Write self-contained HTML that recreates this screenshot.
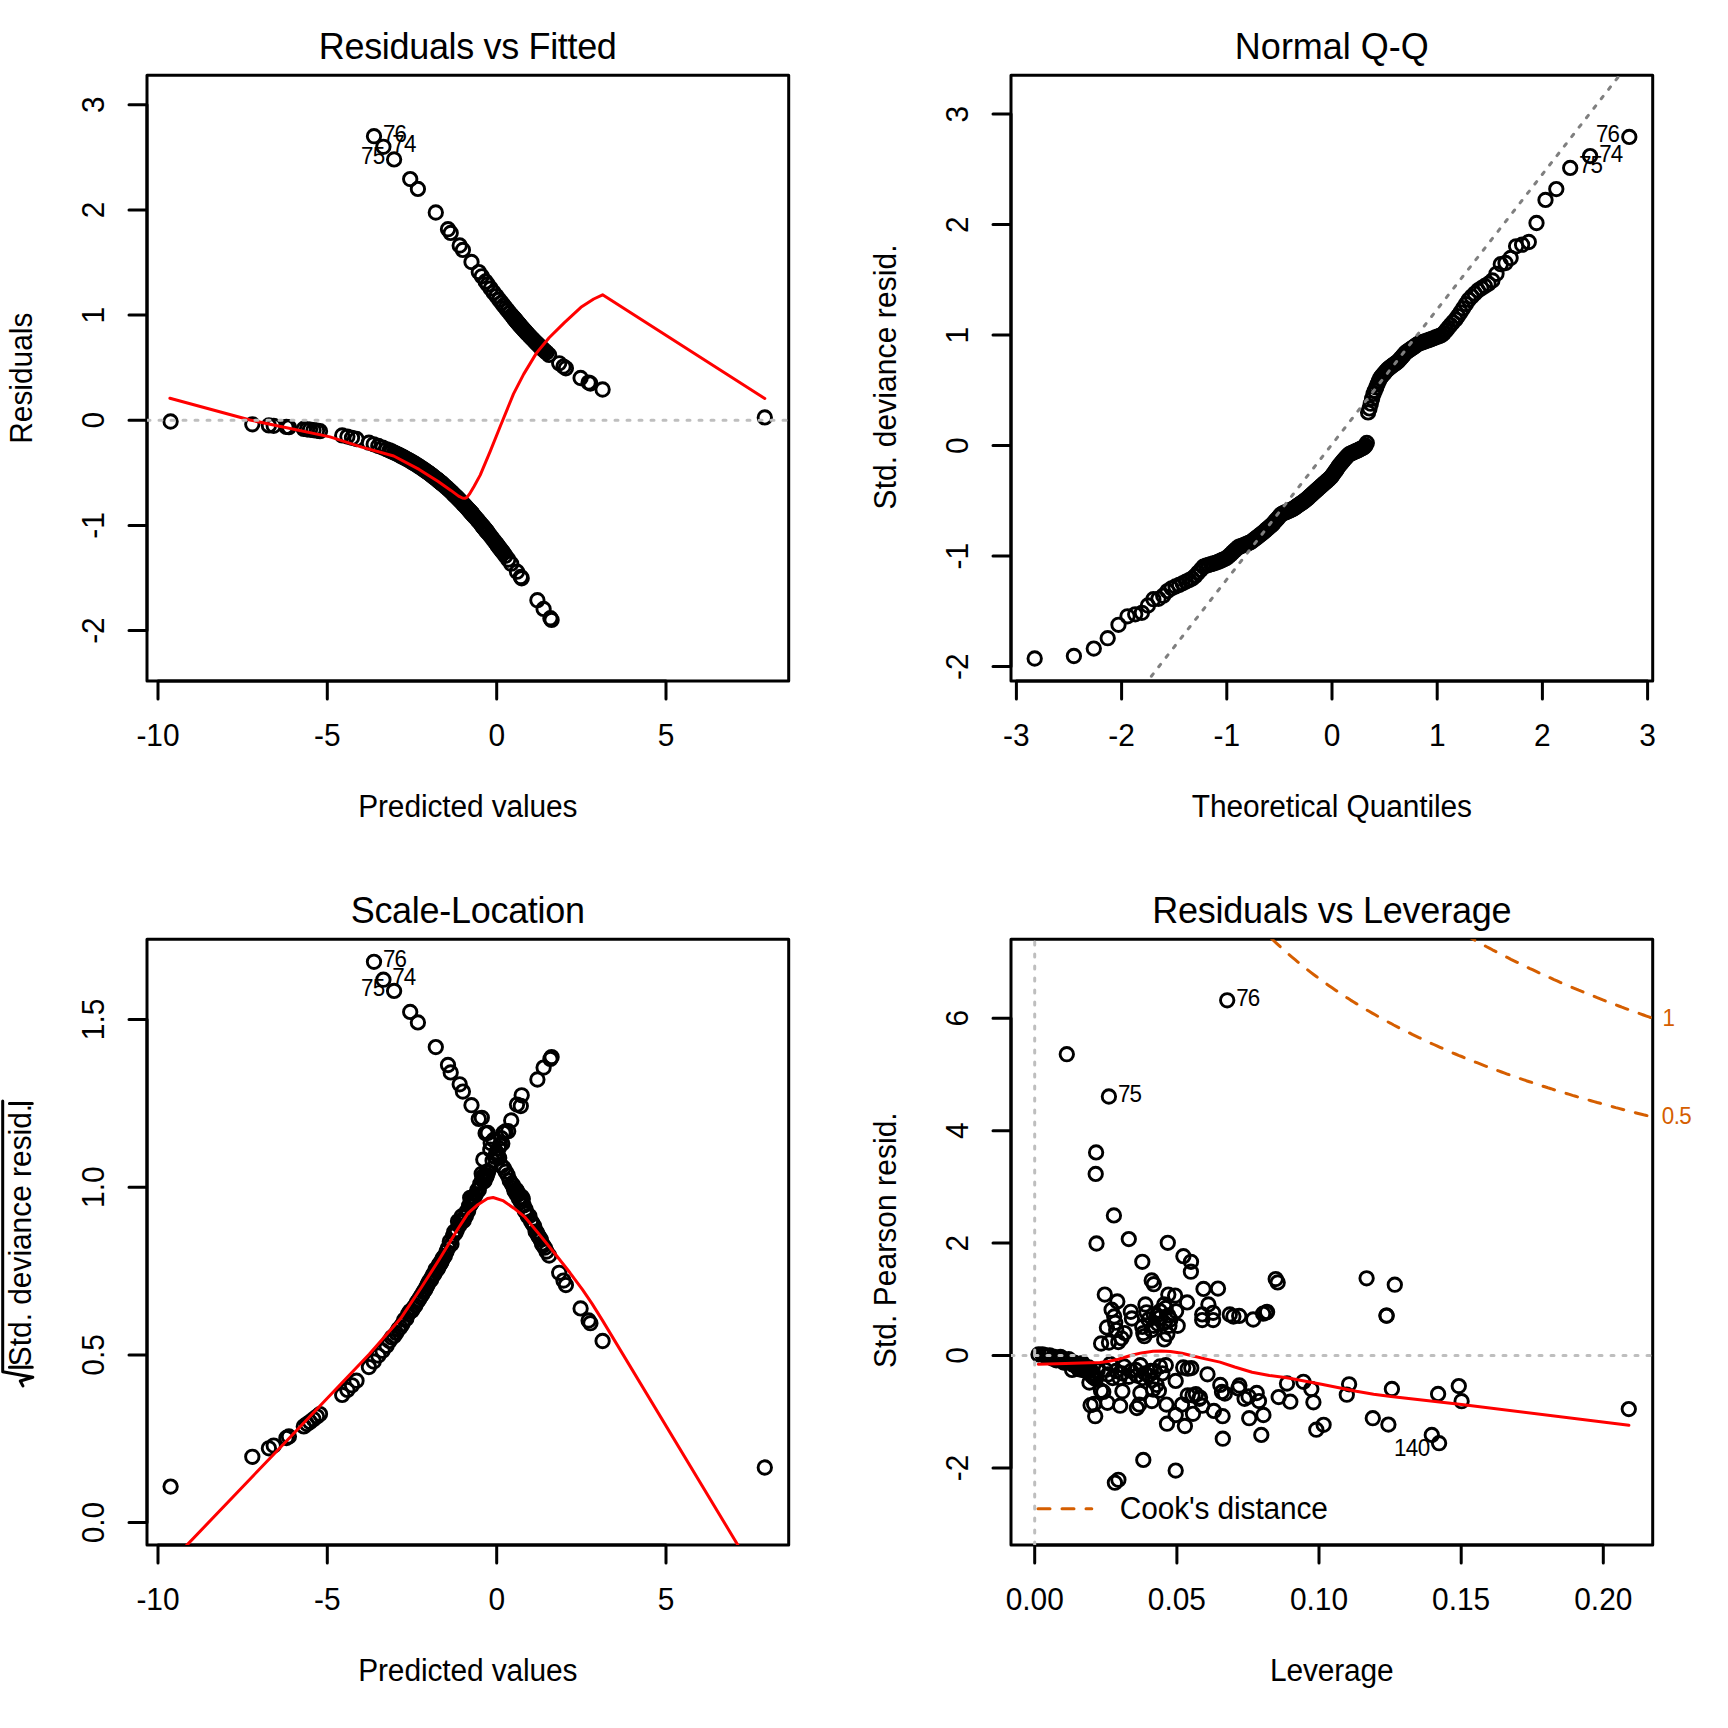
<!DOCTYPE html>
<html><head><meta charset="utf-8"><title>GLM diagnostic plots</title>
<style>
html,body{margin:0;padding:0;background:#fff;}
svg{display:block;}
text{font-family:"Liberation Sans", Arial, sans-serif;fill:#000;}
</style></head><body>
<svg width="1728" height="1728" viewBox="0 0 1728 1728">
<rect width="1728" height="1728" fill="#fff"/>
<defs><clipPath id="c1"><rect x="147" y="75.3" width="641.7" height="605.8"/></clipPath><clipPath id="c2"><rect x="1011" y="75.3" width="641.7" height="605.8"/></clipPath><clipPath id="c3"><rect x="147" y="939.3" width="641.7" height="605.8"/></clipPath><clipPath id="c4"><rect x="1011" y="939.3" width="641.7" height="605.8"/></clipPath></defs>
<rect x="147" y="75.3" width="641.7" height="605.8" fill="none" stroke="#000" stroke-width="3.0" stroke-linejoin="round"/>
<path d="M158 681.1H666M158 681.1v18M327.3 681.1v18M496.7 681.1v18M666 681.1v18" stroke="#000" stroke-width="3.0" fill="none" stroke-linecap="round"/>
<path d="M147 104.8V630.6M147 630.6h-18M147 525.4h-18M147 420.2h-18M147 315.1h-18M147 209.9h-18M147 104.8h-18" stroke="#000" stroke-width="3.0" fill="none" stroke-linecap="round"/>
<text transform="translate(157.99 745.5) scale(1 1.04)" font-size="29.88" text-anchor="middle">-10</text>
<text transform="translate(327.34 745.5) scale(1 1.04)" font-size="29.88" text-anchor="middle">-5</text>
<text transform="translate(496.69 745.5) scale(1 1.04)" font-size="29.88" text-anchor="middle">0</text>
<text transform="translate(666.04 745.5) scale(1 1.04)" font-size="29.88" text-anchor="middle">5</text>
<text transform="translate(103.8 630.57) rotate(-90) scale(1 1.04)" font-size="29.88" text-anchor="middle">-2</text>
<text transform="translate(103.8 525.41) rotate(-90) scale(1 1.04)" font-size="29.88" text-anchor="middle">-1</text>
<text transform="translate(103.8 420.25) rotate(-90) scale(1 1.04)" font-size="29.88" text-anchor="middle">0</text>
<text transform="translate(103.8 315.09) rotate(-90) scale(1 1.04)" font-size="29.88" text-anchor="middle">1</text>
<text transform="translate(103.8 209.93) rotate(-90) scale(1 1.04)" font-size="29.88" text-anchor="middle">2</text>
<text transform="translate(103.8 104.77) rotate(-90) scale(1 1.04)" font-size="29.88" text-anchor="middle">3</text>
<text transform="translate(467.85 58.8) scale(1 1.04)" font-size="36" text-anchor="middle" textLength="298.0" lengthAdjust="spacing">Residuals vs Fitted</text>
<text transform="translate(467.85 816.7) scale(1 1.04)" font-size="29.88" text-anchor="middle" textLength="219.3" lengthAdjust="spacing">Predicted values</text>
<text transform="translate(32.2 378.2) rotate(-90) scale(1 1.04)" font-size="29.88" text-anchor="middle">Residuals</text>
<g clip-path="url(#c1)">
<g fill="none" stroke="#000" stroke-width="2.9"><circle cx="374" cy="136.2" r="6.7"/><circle cx="383.4" cy="146.8" r="6.7"/><circle cx="394.1" cy="159.4" r="6.7"/><circle cx="410.2" cy="179.1" r="6.7"/><circle cx="417.9" cy="188.9" r="6.7"/><circle cx="435.8" cy="212.5" r="6.7"/><circle cx="448" cy="229.2" r="6.7"/><circle cx="450.7" cy="232.9" r="6.7"/><circle cx="459.7" cy="245.5" r="6.7"/><circle cx="462.9" cy="249.9" r="6.7"/><circle cx="471.5" cy="262" r="6.7"/><circle cx="478.8" cy="272.1" r="6.7"/><circle cx="481.8" cy="276.3" r="6.7"/><circle cx="485.6" cy="281.5" r="6.7"/><circle cx="487.8" cy="284.5" r="6.7"/><circle cx="490.7" cy="288.5" r="6.7"/><circle cx="493.6" cy="292.4" r="6.7"/><circle cx="496.4" cy="296.1" r="6.7"/><circle cx="499.2" cy="299.7" r="6.7"/><circle cx="501.6" cy="302.8" r="6.7"/><circle cx="503.7" cy="305.5" r="6.7"/><circle cx="505.7" cy="308" r="6.7"/><circle cx="507.7" cy="310.6" r="6.7"/><circle cx="509.7" cy="313.1" r="6.7"/><circle cx="511.8" cy="315.6" r="6.7"/><circle cx="513.2" cy="317.3" r="6.7"/><circle cx="513.8" cy="318.1" r="6.7"/><circle cx="514.5" cy="318.8" r="6.7"/><circle cx="515.1" cy="319.6" r="6.7"/><circle cx="515.7" cy="320.3" r="6.7"/><circle cx="516.3" cy="321" r="6.7"/><circle cx="516.8" cy="321.7" r="6.7"/><circle cx="517.4" cy="322.3" r="6.7"/><circle cx="517.9" cy="322.9" r="6.7"/><circle cx="518.4" cy="323.5" r="6.7"/><circle cx="518.9" cy="324.1" r="6.7"/><circle cx="519.4" cy="324.7" r="6.7"/><circle cx="519.9" cy="325.3" r="6.7"/><circle cx="520.9" cy="326.4" r="6.7"/><circle cx="521.9" cy="327.5" r="6.7"/><circle cx="522.8" cy="328.6" r="6.7"/><circle cx="523.8" cy="329.7" r="6.7"/><circle cx="524.8" cy="330.7" r="6.7"/><circle cx="525.7" cy="331.8" r="6.7"/><circle cx="526.7" cy="332.9" r="6.7"/><circle cx="527.8" cy="334.1" r="6.7"/><circle cx="529.4" cy="335.8" r="6.7"/><circle cx="531" cy="337.4" r="6.7"/><circle cx="532.6" cy="339.1" r="6.7"/><circle cx="534.2" cy="340.8" r="6.7"/><circle cx="535.6" cy="342.2" r="6.7"/><circle cx="536.7" cy="343.3" r="6.7"/><circle cx="537.7" cy="344.3" r="6.7"/><circle cx="538.7" cy="345.3" r="6.7"/><circle cx="539.8" cy="346.3" r="6.7"/><circle cx="540.8" cy="347.4" r="6.7"/><circle cx="541.9" cy="348.4" r="6.7"/><circle cx="543.2" cy="349.5" r="6.7"/><circle cx="544.8" cy="351.1" r="6.7"/><circle cx="546.5" cy="352.6" r="6.7"/><circle cx="549.1" cy="354.9" r="6.7"/><circle cx="559.2" cy="363.3" r="6.7"/><circle cx="563.5" cy="366.6" r="6.7"/><circle cx="565.9" cy="368.3" r="6.7"/><circle cx="580.6" cy="378" r="6.7"/><circle cx="588.6" cy="382.6" r="6.7"/><circle cx="590.4" cy="383.5" r="6.7"/><circle cx="602.6" cy="389.5" r="6.7"/><circle cx="764.8" cy="417.4" r="6.7"/><circle cx="551.6" cy="619.9" r="6.7"/><circle cx="550.4" cy="618.2" r="6.7"/><circle cx="543.6" cy="608.9" r="6.7"/><circle cx="537.4" cy="600.2" r="6.7"/><circle cx="521.7" cy="578.3" r="6.7"/><circle cx="520.8" cy="577" r="6.7"/><circle cx="517" cy="571.7" r="6.7"/><circle cx="511.2" cy="563.7" r="6.7"/><circle cx="508.2" cy="559.6" r="6.7"/><circle cx="505.4" cy="555.8" r="6.7"/><circle cx="503.5" cy="553.1" r="6.7"/><circle cx="502.3" cy="551.5" r="6.7"/><circle cx="501.1" cy="549.9" r="6.7"/><circle cx="500" cy="548.5" r="6.7"/><circle cx="498.8" cy="546.9" r="6.7"/><circle cx="497.7" cy="545.4" r="6.7"/><circle cx="496.7" cy="544" r="6.7"/><circle cx="494.9" cy="541.7" r="6.7"/><circle cx="492.6" cy="538.7" r="6.7"/><circle cx="490.3" cy="535.8" r="6.7"/><circle cx="488.1" cy="533" r="6.7"/><circle cx="487.4" cy="532.1" r="6.7"/><circle cx="486.9" cy="531.4" r="6.7"/><circle cx="486.3" cy="530.7" r="6.7"/><circle cx="485.8" cy="530" r="6.7"/><circle cx="485.3" cy="529.4" r="6.7"/><circle cx="484.6" cy="528.6" r="6.7"/><circle cx="483.9" cy="527.7" r="6.7"/><circle cx="483.1" cy="526.8" r="6.7"/><circle cx="482.4" cy="525.9" r="6.7"/><circle cx="481.7" cy="525" r="6.7"/><circle cx="480.3" cy="523.3" r="6.7"/><circle cx="478.8" cy="521.5" r="6.7"/><circle cx="477.4" cy="519.8" r="6.7"/><circle cx="475.9" cy="518.1" r="6.7"/><circle cx="474.5" cy="516.4" r="6.7"/><circle cx="473.1" cy="514.9" r="6.7"/><circle cx="472.6" cy="514.2" r="6.7"/><circle cx="472" cy="513.5" r="6.7"/><circle cx="471.4" cy="512.9" r="6.7"/><circle cx="470.8" cy="512.2" r="6.7"/><circle cx="470.2" cy="511.6" r="6.7"/><circle cx="469.7" cy="510.9" r="6.7"/><circle cx="469.1" cy="510.3" r="6.7"/><circle cx="468.1" cy="509.2" r="6.7"/><circle cx="467" cy="508" r="6.7"/><circle cx="465.9" cy="506.8" r="6.7"/><circle cx="464.8" cy="505.6" r="6.7"/><circle cx="463.7" cy="504.5" r="6.7"/><circle cx="462.7" cy="503.3" r="6.7"/><circle cx="461.6" cy="502.2" r="6.7"/><circle cx="460.4" cy="501" r="6.7"/><circle cx="459.2" cy="499.7" r="6.7"/><circle cx="458" cy="498.5" r="6.7"/><circle cx="456.8" cy="497.3" r="6.7"/><circle cx="455.5" cy="496.1" r="6.7"/><circle cx="454.3" cy="494.9" r="6.7"/><circle cx="453.1" cy="493.7" r="6.7"/><circle cx="451.5" cy="492.1" r="6.7"/><circle cx="449.8" cy="490.6" r="6.7"/><circle cx="448.2" cy="489" r="6.7"/><circle cx="446.5" cy="487.5" r="6.7"/><circle cx="444.8" cy="486" r="6.7"/><circle cx="443.1" cy="484.5" r="6.7"/><circle cx="442.1" cy="483.7" r="6.7"/><circle cx="441.5" cy="483.1" r="6.7"/><circle cx="440.8" cy="482.6" r="6.7"/><circle cx="440.1" cy="482" r="6.7"/><circle cx="439.4" cy="481.4" r="6.7"/><circle cx="438.8" cy="480.9" r="6.7"/><circle cx="438.1" cy="480.3" r="6.7"/><circle cx="437.4" cy="479.8" r="6.7"/><circle cx="436.6" cy="479.1" r="6.7"/><circle cx="435.5" cy="478.3" r="6.7"/><circle cx="434.4" cy="477.4" r="6.7"/><circle cx="433.3" cy="476.5" r="6.7"/><circle cx="432.2" cy="475.7" r="6.7"/><circle cx="431.1" cy="474.8" r="6.7"/><circle cx="430" cy="474" r="6.7"/><circle cx="428.8" cy="473.1" r="6.7"/><circle cx="427.6" cy="472.3" r="6.7"/><circle cx="426.5" cy="471.4" r="6.7"/><circle cx="425.1" cy="470.5" r="6.7"/><circle cx="423.5" cy="469.4" r="6.7"/><circle cx="422" cy="468.3" r="6.7"/><circle cx="420.3" cy="467.2" r="6.7"/><circle cx="418.7" cy="466.2" r="6.7"/><circle cx="417" cy="465.1" r="6.7"/><circle cx="415.3" cy="464" r="6.7"/><circle cx="413.6" cy="463" r="6.7"/><circle cx="411.8" cy="461.9" r="6.7"/><circle cx="410" cy="460.8" r="6.7"/><circle cx="408.2" cy="459.8" r="6.7"/><circle cx="406.3" cy="458.8" r="6.7"/><circle cx="404.4" cy="457.7" r="6.7"/><circle cx="402.4" cy="456.7" r="6.7"/><circle cx="400.4" cy="455.7" r="6.7"/><circle cx="398.4" cy="454.6" r="6.7"/><circle cx="396.2" cy="453.6" r="6.7"/><circle cx="394.1" cy="452.6" r="6.7"/><circle cx="391.8" cy="451.5" r="6.7"/><circle cx="389.5" cy="450.5" r="6.7"/><circle cx="386.6" cy="449.3" r="6.7"/><circle cx="382.6" cy="447.6" r="6.7"/><circle cx="378.3" cy="446" r="6.7"/><circle cx="373.7" cy="444.3" r="6.7"/><circle cx="368.9" cy="442.7" r="6.7"/><circle cx="356.5" cy="439" r="6.7"/><circle cx="352" cy="437.8" r="6.7"/><circle cx="347.4" cy="436.6" r="6.7"/><circle cx="342.2" cy="435.4" r="6.7"/><circle cx="320" cy="431.2" r="6.7"/><circle cx="317" cy="430.7" r="6.7"/><circle cx="313.5" cy="430.2" r="6.7"/><circle cx="310" cy="429.7" r="6.7"/><circle cx="307" cy="429.3" r="6.7"/><circle cx="303.8" cy="428.9" r="6.7"/><circle cx="288.9" cy="427.2" r="6.7"/><circle cx="286.4" cy="426.9" r="6.7"/><circle cx="273.7" cy="425.8" r="6.7"/><circle cx="268.9" cy="425.4" r="6.7"/><circle cx="252.3" cy="424.3" r="6.7"/><circle cx="170.6" cy="421.5" r="6.7"/><circle cx="483.3" cy="527" r="6.7"/></g>
<path d="M169.9 398.2L250 420L330 436.9L361.8 447.1L393.7 456L419.1 469.4L438.2 481.5L450.9 490.4L458.6 496.1L462.4 498L464.8 498.3L466.9 497.4L469.4 494.2L474 486.5L480.2 475.1L490.4 450.9L500.6 425.5L513.5 393.9L523.7 374.1L536.4 353.1L549.1 337.8L564.4 322.6L580.9 307.3L593.7 299L602.6 294.8L764.8 398.5" fill="none" stroke="#FF0000" stroke-width="3.0" stroke-linecap="round" stroke-linejoin="round"/>
<path d="M147 420.2L788.7 420.2" fill="none" stroke="#BEBEBE" stroke-width="3" stroke-linecap="round" stroke-linejoin="round" stroke-dasharray="3 9"/>
</g>
<text transform="translate(383 141.6) scale(1 1.04)" font-size="22.4" textLength="24" lengthAdjust="spacing">76</text>
<text transform="translate(392.35 152.3) scale(1 1.04)" font-size="22.4" textLength="24" lengthAdjust="spacing">74</text>
<text transform="translate(385.1 164.4) scale(1 1.04)" font-size="22.4" text-anchor="end" textLength="24" lengthAdjust="spacing">75</text>
<rect x="1011" y="75.3" width="641.7" height="605.8" fill="none" stroke="#000" stroke-width="3.0" stroke-linejoin="round"/>
<path d="M1016.4 681.1H1647.6M1016.4 681.1v18M1121.6 681.1v18M1226.8 681.1v18M1332 681.1v18M1437.2 681.1v18M1542.4 681.1v18M1647.6 681.1v18" stroke="#000" stroke-width="3.0" fill="none" stroke-linecap="round"/>
<path d="M1011 114.1V666.6M1011 666.6h-18M1011 556.1h-18M1011 445.6h-18M1011 335.1h-18M1011 224.6h-18M1011 114.1h-18" stroke="#000" stroke-width="3.0" fill="none" stroke-linecap="round"/>
<text transform="translate(1016.4 745.5) scale(1 1.04)" font-size="29.88" text-anchor="middle">-3</text>
<text transform="translate(1121.6 745.5) scale(1 1.04)" font-size="29.88" text-anchor="middle">-2</text>
<text transform="translate(1226.8 745.5) scale(1 1.04)" font-size="29.88" text-anchor="middle">-1</text>
<text transform="translate(1332 745.5) scale(1 1.04)" font-size="29.88" text-anchor="middle">0</text>
<text transform="translate(1437.2 745.5) scale(1 1.04)" font-size="29.88" text-anchor="middle">1</text>
<text transform="translate(1542.4 745.5) scale(1 1.04)" font-size="29.88" text-anchor="middle">2</text>
<text transform="translate(1647.6 745.5) scale(1 1.04)" font-size="29.88" text-anchor="middle">3</text>
<text transform="translate(967.8 666.6) rotate(-90) scale(1 1.04)" font-size="29.88" text-anchor="middle">-2</text>
<text transform="translate(967.8 556.1) rotate(-90) scale(1 1.04)" font-size="29.88" text-anchor="middle">-1</text>
<text transform="translate(967.8 445.6) rotate(-90) scale(1 1.04)" font-size="29.88" text-anchor="middle">0</text>
<text transform="translate(967.8 335.1) rotate(-90) scale(1 1.04)" font-size="29.88" text-anchor="middle">1</text>
<text transform="translate(967.8 224.6) rotate(-90) scale(1 1.04)" font-size="29.88" text-anchor="middle">2</text>
<text transform="translate(967.8 114.1) rotate(-90) scale(1 1.04)" font-size="29.88" text-anchor="middle">3</text>
<text transform="translate(1331.85 58.8) scale(1 1.04)" font-size="36" text-anchor="middle">Normal Q-Q</text>
<text transform="translate(1331.85 816.7) scale(1 1.04)" font-size="29.88" text-anchor="middle" textLength="280.1" lengthAdjust="spacing">Theoretical Quantiles</text>
<text transform="translate(896.2 376.9) rotate(-90) scale(1 1.04)" font-size="29.88" text-anchor="middle" textLength="265.0" lengthAdjust="spacing">Std. deviance resid.</text>
<g clip-path="url(#c2)">
<g fill="none" stroke="#000" stroke-width="2.9"><circle cx="1034.7" cy="658.5" r="6.7"/><circle cx="1073.9" cy="656" r="6.7"/><circle cx="1093.8" cy="648.6" r="6.7"/><circle cx="1107.7" cy="638.2" r="6.7"/><circle cx="1118.5" cy="624.8" r="6.7"/><circle cx="1127.5" cy="616.3" r="6.7"/><circle cx="1135.2" cy="614.3" r="6.7"/><circle cx="1141.9" cy="612.8" r="6.7"/><circle cx="1147.9" cy="605.5" r="6.7"/><circle cx="1153.4" cy="599.2" r="6.7"/><circle cx="1158.5" cy="598.8" r="6.7"/><circle cx="1163.2" cy="595.7" r="6.7"/><circle cx="1167.5" cy="591.1" r="6.7"/><circle cx="1171.6" cy="588.3" r="6.7"/><circle cx="1175.5" cy="586.5" r="6.7"/><circle cx="1179.1" cy="584.9" r="6.7"/><circle cx="1182.6" cy="583.3" r="6.7"/><circle cx="1186" cy="581.6" r="6.7"/><circle cx="1189.2" cy="580.1" r="6.7"/><circle cx="1192.2" cy="578.5" r="6.7"/><circle cx="1195.2" cy="576" r="6.7"/><circle cx="1198" cy="572.8" r="6.7"/><circle cx="1200.8" cy="569.7" r="6.7"/><circle cx="1203.4" cy="566.7" r="6.7"/><circle cx="1206" cy="565.7" r="6.7"/><circle cx="1208.5" cy="565" r="6.7"/><circle cx="1211" cy="564.2" r="6.7"/><circle cx="1213.4" cy="563.5" r="6.7"/><circle cx="1215.7" cy="562.8" r="6.7"/><circle cx="1217.9" cy="561.9" r="6.7"/><circle cx="1220.2" cy="560.9" r="6.7"/><circle cx="1222.3" cy="560" r="6.7"/><circle cx="1224.4" cy="559.1" r="6.7"/><circle cx="1226.5" cy="558.1" r="6.7"/><circle cx="1228.6" cy="556.2" r="6.7"/><circle cx="1230.6" cy="554.4" r="6.7"/><circle cx="1232.5" cy="552.5" r="6.7"/><circle cx="1234.4" cy="550.7" r="6.7"/><circle cx="1236.3" cy="548.9" r="6.7"/><circle cx="1238.2" cy="547.2" r="6.7"/><circle cx="1240" cy="546.5" r="6.7"/><circle cx="1241.9" cy="545.8" r="6.7"/><circle cx="1243.6" cy="545.1" r="6.7"/><circle cx="1245.4" cy="544.4" r="6.7"/><circle cx="1247.1" cy="543.7" r="6.7"/><circle cx="1248.8" cy="543" r="6.7"/><circle cx="1250.5" cy="542.3" r="6.7"/><circle cx="1252.2" cy="541.1" r="6.7"/><circle cx="1253.8" cy="539.8" r="6.7"/><circle cx="1255.5" cy="538.5" r="6.7"/><circle cx="1257.1" cy="537.3" r="6.7"/><circle cx="1258.7" cy="536" r="6.7"/><circle cx="1260.3" cy="534.8" r="6.7"/><circle cx="1261.8" cy="533.6" r="6.7"/><circle cx="1263.4" cy="532.3" r="6.7"/><circle cx="1264.9" cy="530.9" r="6.7"/><circle cx="1266.4" cy="529.6" r="6.7"/><circle cx="1267.9" cy="528.3" r="6.7"/><circle cx="1269.4" cy="527" r="6.7"/><circle cx="1270.9" cy="525.7" r="6.7"/><circle cx="1272.4" cy="524.4" r="6.7"/><circle cx="1273.8" cy="522.8" r="6.7"/><circle cx="1275.3" cy="521.1" r="6.7"/><circle cx="1276.7" cy="519.5" r="6.7"/><circle cx="1278.1" cy="517.9" r="6.7"/><circle cx="1279.5" cy="516.2" r="6.7"/><circle cx="1280.9" cy="514.6" r="6.7"/><circle cx="1282.3" cy="513.7" r="6.7"/><circle cx="1283.7" cy="513.1" r="6.7"/><circle cx="1285.1" cy="512.5" r="6.7"/><circle cx="1286.5" cy="511.9" r="6.7"/><circle cx="1287.8" cy="511.3" r="6.7"/><circle cx="1289.2" cy="510.7" r="6.7"/><circle cx="1290.5" cy="510.1" r="6.7"/><circle cx="1291.9" cy="509.5" r="6.7"/><circle cx="1293.2" cy="508.8" r="6.7"/><circle cx="1294.5" cy="507.9" r="6.7"/><circle cx="1295.9" cy="507" r="6.7"/><circle cx="1297.2" cy="506" r="6.7"/><circle cx="1298.5" cy="505.1" r="6.7"/><circle cx="1299.8" cy="504.2" r="6.7"/><circle cx="1301.1" cy="503.3" r="6.7"/><circle cx="1302.4" cy="502.4" r="6.7"/><circle cx="1303.7" cy="501.5" r="6.7"/><circle cx="1305" cy="500.6" r="6.7"/><circle cx="1306.2" cy="499.5" r="6.7"/><circle cx="1307.5" cy="498.4" r="6.7"/><circle cx="1308.8" cy="497.2" r="6.7"/><circle cx="1310.1" cy="496.1" r="6.7"/><circle cx="1311.3" cy="494.9" r="6.7"/><circle cx="1312.6" cy="493.8" r="6.7"/><circle cx="1313.9" cy="492.6" r="6.7"/><circle cx="1315.1" cy="491.5" r="6.7"/><circle cx="1316.4" cy="490.3" r="6.7"/><circle cx="1317.7" cy="489.2" r="6.7"/><circle cx="1318.9" cy="488.1" r="6.7"/><circle cx="1320.2" cy="487" r="6.7"/><circle cx="1321.4" cy="485.8" r="6.7"/><circle cx="1322.7" cy="484.7" r="6.7"/><circle cx="1323.9" cy="483.6" r="6.7"/><circle cx="1325.2" cy="482.5" r="6.7"/><circle cx="1326.4" cy="481.4" r="6.7"/><circle cx="1327.6" cy="480.3" r="6.7"/><circle cx="1328.9" cy="479.2" r="6.7"/><circle cx="1330.1" cy="478.1" r="6.7"/><circle cx="1331.4" cy="476.8" r="6.7"/><circle cx="1332.6" cy="475" r="6.7"/><circle cx="1333.9" cy="473.2" r="6.7"/><circle cx="1335.1" cy="471.4" r="6.7"/><circle cx="1336.4" cy="469.7" r="6.7"/><circle cx="1337.6" cy="467.9" r="6.7"/><circle cx="1338.8" cy="466.1" r="6.7"/><circle cx="1340.1" cy="464.4" r="6.7"/><circle cx="1341.3" cy="462.9" r="6.7"/><circle cx="1342.6" cy="461.5" r="6.7"/><circle cx="1343.8" cy="460.1" r="6.7"/><circle cx="1345.1" cy="458.6" r="6.7"/><circle cx="1346.3" cy="457.2" r="6.7"/><circle cx="1347.6" cy="455.8" r="6.7"/><circle cx="1348.9" cy="454.4" r="6.7"/><circle cx="1350.1" cy="453.8" r="6.7"/><circle cx="1351.4" cy="453.2" r="6.7"/><circle cx="1352.7" cy="452.7" r="6.7"/><circle cx="1353.9" cy="452.1" r="6.7"/><circle cx="1355.2" cy="451.5" r="6.7"/><circle cx="1356.5" cy="451" r="6.7"/><circle cx="1357.8" cy="450.4" r="6.7"/><circle cx="1359" cy="449.7" r="6.7"/><circle cx="1360.3" cy="449.1" r="6.7"/><circle cx="1361.6" cy="448.4" r="6.7"/><circle cx="1362.9" cy="447.8" r="6.7"/><circle cx="1364.2" cy="447.1" r="6.7"/><circle cx="1365.5" cy="445.6" r="6.7"/><circle cx="1366.8" cy="443" r="6.7"/><circle cx="1368.1" cy="412.4" r="6.7"/><circle cx="1369.5" cy="408.4" r="6.7"/><circle cx="1370.8" cy="403.7" r="6.7"/><circle cx="1372.1" cy="398.7" r="6.7"/><circle cx="1373.5" cy="393.9" r="6.7"/><circle cx="1374.8" cy="390.7" r="6.7"/><circle cx="1376.2" cy="387.4" r="6.7"/><circle cx="1377.5" cy="384.2" r="6.7"/><circle cx="1378.9" cy="381" r="6.7"/><circle cx="1380.3" cy="377.9" r="6.7"/><circle cx="1381.7" cy="376.3" r="6.7"/><circle cx="1383.1" cy="374.6" r="6.7"/><circle cx="1384.5" cy="373" r="6.7"/><circle cx="1385.9" cy="371.3" r="6.7"/><circle cx="1387.3" cy="369.7" r="6.7"/><circle cx="1388.7" cy="368.4" r="6.7"/><circle cx="1390.2" cy="367.3" r="6.7"/><circle cx="1391.6" cy="366.2" r="6.7"/><circle cx="1393.1" cy="365.1" r="6.7"/><circle cx="1394.6" cy="364" r="6.7"/><circle cx="1396.1" cy="362.9" r="6.7"/><circle cx="1397.6" cy="361.8" r="6.7"/><circle cx="1399.1" cy="360.2" r="6.7"/><circle cx="1400.6" cy="358.5" r="6.7"/><circle cx="1402.2" cy="356.7" r="6.7"/><circle cx="1403.7" cy="354.9" r="6.7"/><circle cx="1405.3" cy="353" r="6.7"/><circle cx="1406.9" cy="351.8" r="6.7"/><circle cx="1408.5" cy="350.6" r="6.7"/><circle cx="1410.2" cy="349.5" r="6.7"/><circle cx="1411.8" cy="348.3" r="6.7"/><circle cx="1413.5" cy="347.2" r="6.7"/><circle cx="1415.2" cy="346" r="6.7"/><circle cx="1416.9" cy="344.8" r="6.7"/><circle cx="1418.6" cy="343.6" r="6.7"/><circle cx="1420.4" cy="343" r="6.7"/><circle cx="1422.1" cy="342.4" r="6.7"/><circle cx="1424" cy="341.7" r="6.7"/><circle cx="1425.8" cy="341.1" r="6.7"/><circle cx="1427.7" cy="340.4" r="6.7"/><circle cx="1429.6" cy="339.7" r="6.7"/><circle cx="1431.5" cy="339.1" r="6.7"/><circle cx="1433.4" cy="338.3" r="6.7"/><circle cx="1435.4" cy="337.5" r="6.7"/><circle cx="1437.5" cy="336.7" r="6.7"/><circle cx="1439.6" cy="335.9" r="6.7"/><circle cx="1441.7" cy="335.1" r="6.7"/><circle cx="1443.8" cy="333.2" r="6.7"/><circle cx="1446.1" cy="330.5" r="6.7"/><circle cx="1448.3" cy="327.8" r="6.7"/><circle cx="1450.6" cy="325.1" r="6.7"/><circle cx="1453" cy="322.3" r="6.7"/><circle cx="1455.5" cy="319.5" r="6.7"/><circle cx="1458" cy="316.1" r="6.7"/><circle cx="1460.6" cy="312.3" r="6.7"/><circle cx="1463.2" cy="308.3" r="6.7"/><circle cx="1466" cy="304.1" r="6.7"/><circle cx="1468.8" cy="299.8" r="6.7"/><circle cx="1471.8" cy="296.6" r="6.7"/><circle cx="1474.8" cy="293.6" r="6.7"/><circle cx="1478" cy="290.4" r="6.7"/><circle cx="1481.4" cy="288.2" r="6.7"/><circle cx="1484.9" cy="286" r="6.7"/><circle cx="1488.5" cy="283.7" r="6.7"/><circle cx="1492.4" cy="280.5" r="6.7"/><circle cx="1496.5" cy="273.8" r="6.7"/><circle cx="1500.8" cy="264.2" r="6.7"/><circle cx="1505.5" cy="263" r="6.7"/><circle cx="1510.6" cy="258" r="6.7"/><circle cx="1516.1" cy="246.3" r="6.7"/><circle cx="1522.1" cy="244.7" r="6.7"/><circle cx="1528.8" cy="242" r="6.7"/><circle cx="1536.5" cy="223" r="6.7"/><circle cx="1545.5" cy="199.9" r="6.7"/><circle cx="1556.3" cy="189.1" r="6.7"/><circle cx="1570.2" cy="167.9" r="6.7"/><circle cx="1590.1" cy="156.1" r="6.7"/><circle cx="1629.3" cy="136.9" r="6.7"/></g>
<path d="M1011 856.4L1652.7 32.7" fill="none" stroke="#7F7F7F" stroke-width="3" stroke-linecap="round" stroke-linejoin="round" stroke-dasharray="3 9" stroke-dashoffset="-0.4"/>
</g>
<text transform="translate(1620 142) scale(1 1.04)" font-size="22.4" text-anchor="end" textLength="24" lengthAdjust="spacing">76</text>
<text transform="translate(1599.2 161.6) scale(1 1.04)" font-size="22.4" textLength="24" lengthAdjust="spacing">74</text>
<text transform="translate(1578.9 173.4) scale(1 1.04)" font-size="22.4" textLength="24" lengthAdjust="spacing">75</text>
<rect x="147" y="939.3" width="641.7" height="605.8" fill="none" stroke="#000" stroke-width="3.0" stroke-linejoin="round"/>
<path d="M158 1545.1H666M158 1545.1v18M327.3 1545.1v18M496.7 1545.1v18M666 1545.1v18" stroke="#000" stroke-width="3.0" fill="none" stroke-linecap="round"/>
<path d="M147 1019.4V1522.6M147 1522.6h-18M147 1354.9h-18M147 1187.2h-18M147 1019.4h-18" stroke="#000" stroke-width="3.0" fill="none" stroke-linecap="round"/>
<text transform="translate(157.99 1609.5) scale(1 1.04)" font-size="29.88" text-anchor="middle">-10</text>
<text transform="translate(327.34 1609.5) scale(1 1.04)" font-size="29.88" text-anchor="middle">-5</text>
<text transform="translate(496.69 1609.5) scale(1 1.04)" font-size="29.88" text-anchor="middle">0</text>
<text transform="translate(666.04 1609.5) scale(1 1.04)" font-size="29.88" text-anchor="middle">5</text>
<text transform="translate(103.8 1522.6) rotate(-90) scale(1 1.04)" font-size="29.88" text-anchor="middle">0.0</text>
<text transform="translate(103.8 1354.88) rotate(-90) scale(1 1.04)" font-size="29.88" text-anchor="middle">0.5</text>
<text transform="translate(103.8 1187.16) rotate(-90) scale(1 1.04)" font-size="29.88" text-anchor="middle">1.0</text>
<text transform="translate(103.8 1019.44) rotate(-90) scale(1 1.04)" font-size="29.88" text-anchor="middle">1.5</text>
<text transform="translate(467.85 922.8) scale(1 1.04)" font-size="36" text-anchor="middle" textLength="234.4" lengthAdjust="spacing">Scale-Location</text>
<text transform="translate(467.85 1680.7) scale(1 1.04)" font-size="29.88" text-anchor="middle" textLength="219.3" lengthAdjust="spacing">Predicted values</text>
<path d="M2.7 1100.9V1371.7L32.8 1377.2L20.3 1381L22.9 1385.9" fill="none" stroke="#000" stroke-width="3" stroke-linecap="round" stroke-linejoin="round"/><path d="M9.4 1367.3H32.3M9.4 1103.4H32.3" fill="none" stroke="#000" stroke-width="3" stroke-linecap="round"/><text transform="translate(31 1366.2) rotate(-90) scale(1 1.04)" font-size="29.88">Std. deviance resid.</text>
<g clip-path="url(#c3)">
<g fill="none" stroke="#000" stroke-width="2.9"><circle cx="374" cy="961.8" r="6.7"/><circle cx="383.4" cy="979.7" r="6.7"/><circle cx="394.1" cy="990.9" r="6.7"/><circle cx="410.2" cy="1011.9" r="6.7"/><circle cx="417.9" cy="1022.4" r="6.7"/><circle cx="435.8" cy="1047.1" r="6.7"/><circle cx="448" cy="1065" r="6.7"/><circle cx="450.7" cy="1072.4" r="6.7"/><circle cx="459.7" cy="1084.3" r="6.7"/><circle cx="462.9" cy="1091.6" r="6.7"/><circle cx="471.5" cy="1105.2" r="6.7"/><circle cx="478.8" cy="1118.9" r="6.7"/><circle cx="481.8" cy="1117.8" r="6.7"/><circle cx="485.6" cy="1133.3" r="6.7"/><circle cx="487.8" cy="1132.9" r="6.7"/><circle cx="490.7" cy="1143.1" r="6.7"/><circle cx="493.6" cy="1139.9" r="6.7"/><circle cx="496.4" cy="1152" r="6.7"/><circle cx="499.2" cy="1157.9" r="6.7"/><circle cx="501.6" cy="1165.9" r="6.7"/><circle cx="503.7" cy="1167.9" r="6.7"/><circle cx="505.7" cy="1171.7" r="6.7"/><circle cx="507.7" cy="1175.3" r="6.7"/><circle cx="509.7" cy="1180.6" r="6.7"/><circle cx="511.8" cy="1184" r="6.7"/><circle cx="513.2" cy="1185.5" r="6.7"/><circle cx="513.8" cy="1188.1" r="6.7"/><circle cx="514.5" cy="1190.9" r="6.7"/><circle cx="515.1" cy="1190.7" r="6.7"/><circle cx="515.7" cy="1191.4" r="6.7"/><circle cx="516.3" cy="1189.8" r="6.7"/><circle cx="516.8" cy="1194.6" r="6.7"/><circle cx="517.4" cy="1191.9" r="6.7"/><circle cx="517.9" cy="1194.6" r="6.7"/><circle cx="518.4" cy="1194.1" r="6.7"/><circle cx="518.9" cy="1198.4" r="6.7"/><circle cx="519.4" cy="1198" r="6.7"/><circle cx="519.9" cy="1198.1" r="6.7"/><circle cx="520.9" cy="1202.1" r="6.7"/><circle cx="521.9" cy="1197" r="6.7"/><circle cx="522.8" cy="1198.9" r="6.7"/><circle cx="523.8" cy="1205.4" r="6.7"/><circle cx="524.8" cy="1210.9" r="6.7"/><circle cx="525.7" cy="1209.4" r="6.7"/><circle cx="526.7" cy="1213.3" r="6.7"/><circle cx="527.8" cy="1216.3" r="6.7"/><circle cx="529.4" cy="1215.9" r="6.7"/><circle cx="531" cy="1221.3" r="6.7"/><circle cx="532.6" cy="1223.4" r="6.7"/><circle cx="534.2" cy="1226.2" r="6.7"/><circle cx="535.6" cy="1231.6" r="6.7"/><circle cx="536.7" cy="1232.2" r="6.7"/><circle cx="537.7" cy="1234.4" r="6.7"/><circle cx="538.7" cy="1236.4" r="6.7"/><circle cx="539.8" cy="1238" r="6.7"/><circle cx="540.8" cy="1239.7" r="6.7"/><circle cx="541.9" cy="1243.5" r="6.7"/><circle cx="543.2" cy="1245.5" r="6.7"/><circle cx="544.8" cy="1247.7" r="6.7"/><circle cx="546.5" cy="1251.5" r="6.7"/><circle cx="549.1" cy="1255.6" r="6.7"/><circle cx="559.2" cy="1272.8" r="6.7"/><circle cx="563.5" cy="1280.6" r="6.7"/><circle cx="565.9" cy="1285.1" r="6.7"/><circle cx="580.6" cy="1308.4" r="6.7"/><circle cx="588.6" cy="1320.5" r="6.7"/><circle cx="590.4" cy="1323.2" r="6.7"/><circle cx="602.6" cy="1341" r="6.7"/><circle cx="764.8" cy="1467.5" r="6.7"/><circle cx="551.6" cy="1057.1" r="6.7"/><circle cx="550.4" cy="1058.9" r="6.7"/><circle cx="543.6" cy="1067.6" r="6.7"/><circle cx="537.4" cy="1079.5" r="6.7"/><circle cx="521.7" cy="1095.3" r="6.7"/><circle cx="520.8" cy="1106" r="6.7"/><circle cx="517" cy="1104.6" r="6.7"/><circle cx="511.2" cy="1120.5" r="6.7"/><circle cx="508.2" cy="1131.2" r="6.7"/><circle cx="505.4" cy="1131.5" r="6.7"/><circle cx="503.5" cy="1132.8" r="6.7"/><circle cx="502.3" cy="1143.4" r="6.7"/><circle cx="501.1" cy="1138.1" r="6.7"/><circle cx="500" cy="1144.9" r="6.7"/><circle cx="498.8" cy="1148.1" r="6.7"/><circle cx="497.7" cy="1154.6" r="6.7"/><circle cx="496.7" cy="1154" r="6.7"/><circle cx="494.9" cy="1156.9" r="6.7"/><circle cx="492.6" cy="1160.8" r="6.7"/><circle cx="490.3" cy="1149.7" r="6.7"/><circle cx="488.1" cy="1172.1" r="6.7"/><circle cx="487.4" cy="1171.4" r="6.7"/><circle cx="486.9" cy="1175.1" r="6.7"/><circle cx="486.3" cy="1177.1" r="6.7"/><circle cx="485.8" cy="1175.3" r="6.7"/><circle cx="485.3" cy="1176.8" r="6.7"/><circle cx="484.6" cy="1180.4" r="6.7"/><circle cx="483.9" cy="1181.4" r="6.7"/><circle cx="483.1" cy="1176.2" r="6.7"/><circle cx="482.4" cy="1178.4" r="6.7"/><circle cx="481.7" cy="1173.8" r="6.7"/><circle cx="480.3" cy="1183.7" r="6.7"/><circle cx="478.8" cy="1189.9" r="6.7"/><circle cx="477.4" cy="1189.9" r="6.7"/><circle cx="475.9" cy="1194.2" r="6.7"/><circle cx="474.5" cy="1197" r="6.7"/><circle cx="473.1" cy="1198.1" r="6.7"/><circle cx="472.6" cy="1201" r="6.7"/><circle cx="472" cy="1202.3" r="6.7"/><circle cx="471.4" cy="1198.5" r="6.7"/><circle cx="470.8" cy="1204.3" r="6.7"/><circle cx="470.2" cy="1197.8" r="6.7"/><circle cx="469.7" cy="1205.7" r="6.7"/><circle cx="469.1" cy="1205.8" r="6.7"/><circle cx="468.1" cy="1211.2" r="6.7"/><circle cx="467" cy="1210.9" r="6.7"/><circle cx="465.9" cy="1215.9" r="6.7"/><circle cx="464.8" cy="1217" r="6.7"/><circle cx="463.7" cy="1220.6" r="6.7"/><circle cx="462.7" cy="1221.3" r="6.7"/><circle cx="461.6" cy="1216.4" r="6.7"/><circle cx="460.4" cy="1221.1" r="6.7"/><circle cx="459.2" cy="1225.5" r="6.7"/><circle cx="458" cy="1221.3" r="6.7"/><circle cx="456.8" cy="1230.1" r="6.7"/><circle cx="455.5" cy="1233" r="6.7"/><circle cx="454.3" cy="1231.7" r="6.7"/><circle cx="453.1" cy="1235.7" r="6.7"/><circle cx="451.5" cy="1243.9" r="6.7"/><circle cx="449.8" cy="1241.4" r="6.7"/><circle cx="448.2" cy="1247.8" r="6.7"/><circle cx="446.5" cy="1251.5" r="6.7"/><circle cx="444.8" cy="1255.9" r="6.7"/><circle cx="443.1" cy="1257.8" r="6.7"/><circle cx="442.1" cy="1260" r="6.7"/><circle cx="441.5" cy="1261.4" r="6.7"/><circle cx="440.8" cy="1263" r="6.7"/><circle cx="440.1" cy="1264.2" r="6.7"/><circle cx="439.4" cy="1264.1" r="6.7"/><circle cx="438.8" cy="1265.6" r="6.7"/><circle cx="438.1" cy="1267.8" r="6.7"/><circle cx="437.4" cy="1268.9" r="6.7"/><circle cx="436.6" cy="1270" r="6.7"/><circle cx="435.5" cy="1269.5" r="6.7"/><circle cx="434.4" cy="1274.1" r="6.7"/><circle cx="433.3" cy="1274.4" r="6.7"/><circle cx="432.2" cy="1276.7" r="6.7"/><circle cx="431.1" cy="1279.8" r="6.7"/><circle cx="430" cy="1280.3" r="6.7"/><circle cx="428.8" cy="1282.2" r="6.7"/><circle cx="427.6" cy="1284.6" r="6.7"/><circle cx="426.5" cy="1286.9" r="6.7"/><circle cx="425.1" cy="1289.7" r="6.7"/><circle cx="423.5" cy="1292" r="6.7"/><circle cx="422" cy="1294.8" r="6.7"/><circle cx="420.3" cy="1297.3" r="6.7"/><circle cx="418.7" cy="1300" r="6.7"/><circle cx="417" cy="1302.2" r="6.7"/><circle cx="415.3" cy="1305.4" r="6.7"/><circle cx="413.6" cy="1307.8" r="6.7"/><circle cx="411.8" cy="1310.7" r="6.7"/><circle cx="410" cy="1311.3" r="6.7"/><circle cx="408.2" cy="1314" r="6.7"/><circle cx="406.3" cy="1318.7" r="6.7"/><circle cx="404.4" cy="1319.7" r="6.7"/><circle cx="402.4" cy="1324.2" r="6.7"/><circle cx="400.4" cy="1327.3" r="6.7"/><circle cx="398.4" cy="1329.3" r="6.7"/><circle cx="396.2" cy="1332.9" r="6.7"/><circle cx="394.1" cy="1336" r="6.7"/><circle cx="391.8" cy="1337.5" r="6.7"/><circle cx="389.5" cy="1341" r="6.7"/><circle cx="386.6" cy="1345.8" r="6.7"/><circle cx="382.6" cy="1350.8" r="6.7"/><circle cx="378.3" cy="1355.6" r="6.7"/><circle cx="373.7" cy="1361.5" r="6.7"/><circle cx="368.9" cy="1367.1" r="6.7"/><circle cx="356.5" cy="1380.7" r="6.7"/><circle cx="352" cy="1385.3" r="6.7"/><circle cx="347.4" cy="1389.9" r="6.7"/><circle cx="342.2" cy="1394.9" r="6.7"/><circle cx="320" cy="1414.1" r="6.7"/><circle cx="317" cy="1416.6" r="6.7"/><circle cx="313.5" cy="1419.2" r="6.7"/><circle cx="310" cy="1421.9" r="6.7"/><circle cx="307" cy="1424.1" r="6.7"/><circle cx="303.8" cy="1426.4" r="6.7"/><circle cx="288.9" cy="1436.4" r="6.7"/><circle cx="286.4" cy="1438" r="6.7"/><circle cx="273.7" cy="1445.6" r="6.7"/><circle cx="268.9" cy="1448.3" r="6.7"/><circle cx="252.3" cy="1456.8" r="6.7"/><circle cx="170.6" cy="1486.6" r="6.7"/><circle cx="483.3" cy="1159.6" r="6.7"/></g>
<path d="M170.6 1562.1L186.9 1545.1L285.8 1441.7L369.2 1354.2L400.4 1318.8L421.3 1287.5L438.9 1260L458.3 1228.3L468.1 1213.1L477.8 1204.7L487.5 1198.5L493.1 1197.5L502.8 1200.6L513.9 1208.2L525 1217.2L538.9 1233.9L555.4 1254.2L570 1272.8L582.5 1289.6L592 1303.6L602.6 1320.6L764.8 1589.8" fill="none" stroke="#FF0000" stroke-width="3.0" stroke-linecap="round" stroke-linejoin="round"/>
</g>
<text transform="translate(383 967.2) scale(1 1.04)" font-size="22.4" textLength="24" lengthAdjust="spacing">76</text>
<text transform="translate(392.3 985) scale(1 1.04)" font-size="22.4" textLength="24" lengthAdjust="spacing">74</text>
<text transform="translate(385.1 996.2) scale(1 1.04)" font-size="22.4" text-anchor="end" textLength="24" lengthAdjust="spacing">75</text>
<rect x="1011" y="939.3" width="641.7" height="605.8" fill="none" stroke="#000" stroke-width="3.0" stroke-linejoin="round"/>
<path d="M1034.7 1545.1H1603.3M1034.7 1545.1v18M1176.9 1545.1v18M1319 1545.1v18M1461.2 1545.1v18M1603.3 1545.1v18" stroke="#000" stroke-width="3.0" fill="none" stroke-linecap="round"/>
<path d="M1011 1018.3V1468M1011 1468h-18M1011 1355.5h-18M1011 1243.1h-18M1011 1130.7h-18M1011 1018.3h-18" stroke="#000" stroke-width="3.0" fill="none" stroke-linecap="round"/>
<text transform="translate(1034.7 1609.5) scale(1 1.04)" font-size="29.88" text-anchor="middle">0.00</text>
<text transform="translate(1176.85 1609.5) scale(1 1.04)" font-size="29.88" text-anchor="middle">0.05</text>
<text transform="translate(1319 1609.5) scale(1 1.04)" font-size="29.88" text-anchor="middle">0.10</text>
<text transform="translate(1461.15 1609.5) scale(1 1.04)" font-size="29.88" text-anchor="middle">0.15</text>
<text transform="translate(1603.3 1609.5) scale(1 1.04)" font-size="29.88" text-anchor="middle">0.20</text>
<text transform="translate(967.8 1467.95) rotate(-90) scale(1 1.04)" font-size="29.88" text-anchor="middle">-2</text>
<text transform="translate(967.8 1355.54) rotate(-90) scale(1 1.04)" font-size="29.88" text-anchor="middle">0</text>
<text transform="translate(967.8 1243.13) rotate(-90) scale(1 1.04)" font-size="29.88" text-anchor="middle">2</text>
<text transform="translate(967.8 1130.72) rotate(-90) scale(1 1.04)" font-size="29.88" text-anchor="middle">4</text>
<text transform="translate(967.8 1018.3) rotate(-90) scale(1 1.04)" font-size="29.88" text-anchor="middle">6</text>
<text transform="translate(1331.85 922.8) scale(1 1.04)" font-size="36" text-anchor="middle" textLength="359.2" lengthAdjust="spacing">Residuals vs Leverage</text>
<text transform="translate(1331.85 1680.7) scale(1 1.04)" font-size="29.88" text-anchor="middle" textLength="123.7" lengthAdjust="spacing">Leverage</text>
<text transform="translate(896.2 1240.2) rotate(-90) scale(1 1.04)" font-size="29.88" text-anchor="middle" textLength="255.7" lengthAdjust="spacing">Std. Pearson resid.</text>
<g clip-path="url(#c4)">
<g fill="none" stroke="#000" stroke-width="2.9"><circle cx="1227.2" cy="1000.3" r="6.7"/><circle cx="1066.8" cy="1054.2" r="6.7"/><circle cx="1108.9" cy="1096.5" r="6.7"/><circle cx="1096.1" cy="1152.4" r="6.7"/><circle cx="1095.7" cy="1173.9" r="6.7"/><circle cx="1113.9" cy="1215.4" r="6.7"/><circle cx="1096.5" cy="1243.5" r="6.7"/><circle cx="1128.8" cy="1239.1" r="6.7"/><circle cx="1142.3" cy="1261.8" r="6.7"/><circle cx="1167.8" cy="1242.8" r="6.7"/><circle cx="1183.4" cy="1256.2" r="6.7"/><circle cx="1191" cy="1261.8" r="6.7"/><circle cx="1190.9" cy="1271.7" r="6.7"/><circle cx="1151.7" cy="1280.5" r="6.7"/><circle cx="1153.8" cy="1284.2" r="6.7"/><circle cx="1203.5" cy="1288.9" r="6.7"/><circle cx="1218" cy="1288.6" r="6.7"/><circle cx="1104.8" cy="1294.6" r="6.7"/><circle cx="1117.3" cy="1301.4" r="6.7"/><circle cx="1111.6" cy="1309.7" r="6.7"/><circle cx="1114.2" cy="1316.5" r="6.7"/><circle cx="1115.2" cy="1322.7" r="6.7"/><circle cx="1106.9" cy="1327.4" r="6.7"/><circle cx="1116.2" cy="1330" r="6.7"/><circle cx="1124.6" cy="1333.1" r="6.7"/><circle cx="1121.5" cy="1338.3" r="6.7"/><circle cx="1118.3" cy="1342" r="6.7"/><circle cx="1109" cy="1342.5" r="6.7"/><circle cx="1101.1" cy="1343.5" r="6.7"/><circle cx="1130.8" cy="1311.8" r="6.7"/><circle cx="1131.9" cy="1318.5" r="6.7"/><circle cx="1145.4" cy="1304.5" r="6.7"/><circle cx="1146.5" cy="1312.3" r="6.7"/><circle cx="1142.3" cy="1326.9" r="6.7"/><circle cx="1143.3" cy="1333.1" r="6.7"/><circle cx="1144.4" cy="1336.2" r="6.7"/><circle cx="1153.8" cy="1314.4" r="6.7"/><circle cx="1153.8" cy="1325.8" r="6.7"/><circle cx="1160" cy="1317.5" r="6.7"/><circle cx="1164.2" cy="1304.5" r="6.7"/><circle cx="1168.3" cy="1294.6" r="6.7"/><circle cx="1175.1" cy="1295.6" r="6.7"/><circle cx="1165.7" cy="1308.1" r="6.7"/><circle cx="1168.3" cy="1315.4" r="6.7"/><circle cx="1164.2" cy="1322.7" r="6.7"/><circle cx="1169.4" cy="1325.8" r="6.7"/><circle cx="1167.3" cy="1334.2" r="6.7"/><circle cx="1164.2" cy="1339.4" r="6.7"/><circle cx="1176.1" cy="1311.2" r="6.7"/><circle cx="1177.7" cy="1325.8" r="6.7"/><circle cx="1187.1" cy="1302.4" r="6.7"/><circle cx="1208.4" cy="1304.5" r="6.7"/><circle cx="1213.1" cy="1312.8" r="6.7"/><circle cx="1202.2" cy="1314.4" r="6.7"/><circle cx="1202.2" cy="1320.1" r="6.7"/><circle cx="1213.1" cy="1320.1" r="6.7"/><circle cx="1229.8" cy="1314.4" r="6.7"/><circle cx="1233.4" cy="1316.5" r="6.7"/><circle cx="1239.2" cy="1315.9" r="6.7"/><circle cx="1148.5" cy="1319.6" r="6.7"/><circle cx="1157.9" cy="1323.8" r="6.7"/><circle cx="1151.7" cy="1330" r="6.7"/><circle cx="1160" cy="1311.2" r="6.7"/><circle cx="1170.4" cy="1319.6" r="6.7"/><circle cx="1156.9" cy="1315.4" r="6.7"/><circle cx="1253.2" cy="1319.5" r="6.7"/><circle cx="1263.1" cy="1313.7" r="6.7"/><circle cx="1266" cy="1312.6" r="6.7"/><circle cx="1267.1" cy="1312" r="6.7"/><circle cx="1386.6" cy="1315.7" r="6.7"/><circle cx="1275.7" cy="1279.1" r="6.7"/><circle cx="1277.7" cy="1282.4" r="6.7"/><circle cx="1366.6" cy="1278.3" r="6.7"/><circle cx="1394.8" cy="1284.7" r="6.7"/><circle cx="1110.3" cy="1364.1" r="6.7"/><circle cx="1108" cy="1374.5" r="6.7"/><circle cx="1112.6" cy="1378" r="6.7"/><circle cx="1121.9" cy="1373.3" r="6.7"/><circle cx="1124.2" cy="1366.4" r="6.7"/><circle cx="1128.8" cy="1376.8" r="6.7"/><circle cx="1140.4" cy="1365.2" r="6.7"/><circle cx="1136.9" cy="1375.6" r="6.7"/><circle cx="1145" cy="1373.3" r="6.7"/><circle cx="1150.8" cy="1371" r="6.7"/><circle cx="1151.9" cy="1380.3" r="6.7"/><circle cx="1156.6" cy="1384.9" r="6.7"/><circle cx="1153.1" cy="1389.5" r="6.7"/><circle cx="1158.9" cy="1390.7" r="6.7"/><circle cx="1160" cy="1366.4" r="6.7"/><circle cx="1165.8" cy="1365.2" r="6.7"/><circle cx="1162.4" cy="1373.3" r="6.7"/><circle cx="1183.2" cy="1367.5" r="6.7"/><circle cx="1187.8" cy="1368.7" r="6.7"/><circle cx="1191.3" cy="1368.1" r="6.7"/><circle cx="1175.7" cy="1380.9" r="6.7"/><circle cx="1103.3" cy="1391.9" r="6.7"/><circle cx="1101" cy="1390.7" r="6.7"/><circle cx="1122.4" cy="1391.3" r="6.7"/><circle cx="1140.4" cy="1393" r="6.7"/><circle cx="1151.9" cy="1401.1" r="6.7"/><circle cx="1090.6" cy="1405.2" r="6.7"/><circle cx="1094.1" cy="1404" r="6.7"/><circle cx="1107.4" cy="1402.8" r="6.7"/><circle cx="1120.1" cy="1405.7" r="6.7"/><circle cx="1136.9" cy="1408.1" r="6.7"/><circle cx="1139.2" cy="1404.6" r="6.7"/><circle cx="1095.2" cy="1416.2" r="6.7"/><circle cx="1166.4" cy="1404.6" r="6.7"/><circle cx="1175.7" cy="1415" r="6.7"/><circle cx="1182" cy="1404.6" r="6.7"/><circle cx="1187.8" cy="1395.3" r="6.7"/><circle cx="1192.5" cy="1395.3" r="6.7"/><circle cx="1195.9" cy="1394.2" r="6.7"/><circle cx="1199.4" cy="1398.8" r="6.7"/><circle cx="1193" cy="1413.8" r="6.7"/><circle cx="1167" cy="1423.7" r="6.7"/><circle cx="1184.9" cy="1426" r="6.7"/><circle cx="1143.3" cy="1459.9" r="6.7"/><circle cx="1175.7" cy="1470.6" r="6.7"/><circle cx="1118.4" cy="1479.8" r="6.7"/><circle cx="1114.9" cy="1482.7" r="6.7"/><circle cx="1072.1" cy="1369.9" r="6.7"/><circle cx="1077.9" cy="1364.1" r="6.7"/><circle cx="1084.8" cy="1366.4" r="6.7"/><circle cx="1089.4" cy="1371" r="6.7"/><circle cx="1091.8" cy="1375.6" r="6.7"/><circle cx="1094.1" cy="1378" r="6.7"/><circle cx="1089.4" cy="1382.6" r="6.7"/><circle cx="1105.6" cy="1369.9" r="6.7"/><circle cx="1116.1" cy="1371" r="6.7"/><circle cx="1119.5" cy="1378" r="6.7"/><circle cx="1131.1" cy="1371" r="6.7"/><circle cx="1135.7" cy="1369.9" r="6.7"/><circle cx="1142.7" cy="1378" r="6.7"/><circle cx="1148.5" cy="1375.6" r="6.7"/><circle cx="1154.3" cy="1371" r="6.7"/><circle cx="1207.5" cy="1374.3" r="6.7"/><circle cx="1220.3" cy="1384.9" r="6.7"/><circle cx="1222" cy="1391.9" r="6.7"/><circle cx="1224.9" cy="1393.6" r="6.7"/><circle cx="1239.4" cy="1385.5" r="6.7"/><circle cx="1238.2" cy="1388.4" r="6.7"/><circle cx="1256.7" cy="1393" r="6.7"/><circle cx="1248.6" cy="1396.5" r="6.7"/><circle cx="1244.6" cy="1398.8" r="6.7"/><circle cx="1259" cy="1401.1" r="6.7"/><circle cx="1200" cy="1397.6" r="6.7"/><circle cx="1202.3" cy="1405.7" r="6.7"/><circle cx="1213.9" cy="1410.9" r="6.7"/><circle cx="1222.6" cy="1416.2" r="6.7"/><circle cx="1249.2" cy="1418.2" r="6.7"/><circle cx="1263.4" cy="1415" r="6.7"/><circle cx="1222.8" cy="1438.7" r="6.7"/><circle cx="1261.3" cy="1434.9" r="6.7"/><circle cx="1278.7" cy="1397.1" r="6.7"/><circle cx="1287" cy="1383.5" r="6.7"/><circle cx="1290.3" cy="1401.7" r="6.7"/><circle cx="1303.4" cy="1381.8" r="6.7"/><circle cx="1311.3" cy="1389" r="6.7"/><circle cx="1313.4" cy="1402.3" r="6.7"/><circle cx="1316.3" cy="1429.7" r="6.7"/><circle cx="1323.6" cy="1424.8" r="6.7"/><circle cx="1349.1" cy="1384.3" r="6.7"/><circle cx="1346.8" cy="1394.7" r="6.7"/><circle cx="1372.8" cy="1418.2" r="6.7"/><circle cx="1388.4" cy="1424.6" r="6.7"/><circle cx="1391.9" cy="1389" r="6.7"/><circle cx="1386.5" cy="1315.6" r="6.7"/><circle cx="1438.1" cy="1393.9" r="6.7"/><circle cx="1458.8" cy="1386.1" r="6.7"/><circle cx="1461.6" cy="1401.2" r="6.7"/><circle cx="1431.8" cy="1434.9" r="6.7"/><circle cx="1439.1" cy="1443.2" r="6.7"/><circle cx="1628.8" cy="1409.1" r="6.7"/><circle cx="1038.5" cy="1354.4" r="6.7"/><circle cx="1042.5" cy="1354.4" r="6.7"/><circle cx="1044.6" cy="1355.2" r="6.7"/><circle cx="1045.6" cy="1355.9" r="6.7"/><circle cx="1047.6" cy="1356.2" r="6.7"/><circle cx="1049.6" cy="1355.4" r="6.7"/><circle cx="1052.3" cy="1358.5" r="6.7"/><circle cx="1053.3" cy="1356.6" r="6.7"/><circle cx="1056.2" cy="1360.3" r="6.7"/><circle cx="1057.8" cy="1358.2" r="6.7"/><circle cx="1060.4" cy="1356.8" r="6.7"/><circle cx="1061.7" cy="1358.5" r="6.7"/><circle cx="1061.6" cy="1357.9" r="6.7"/><circle cx="1063.6" cy="1362.6" r="6.7"/><circle cx="1064.8" cy="1361.7" r="6.7"/><circle cx="1067.4" cy="1360.8" r="6.7"/><circle cx="1068.7" cy="1359.1" r="6.7"/><circle cx="1069" cy="1360.5" r="6.7"/><circle cx="1071.9" cy="1362.6" r="6.7"/><circle cx="1072.5" cy="1364.4" r="6.7"/><circle cx="1074.2" cy="1362.6" r="6.7"/><circle cx="1076.5" cy="1366.5" r="6.7"/><circle cx="1076.6" cy="1365.9" r="6.7"/><circle cx="1078.6" cy="1369.2" r="6.7"/><circle cx="1080.5" cy="1364.3" r="6.7"/><circle cx="1082.4" cy="1363.1" r="6.7"/><circle cx="1082.4" cy="1369.9" r="6.7"/><circle cx="1083.1" cy="1367.7" r="6.7"/><circle cx="1084.2" cy="1370.2" r="6.7"/><circle cx="1087.3" cy="1369.7" r="6.7"/><circle cx="1088.8" cy="1367.4" r="6.7"/><circle cx="1089.7" cy="1371.1" r="6.7"/><circle cx="1090.7" cy="1370" r="6.7"/><circle cx="1092.6" cy="1376.4" r="6.7"/><circle cx="1093" cy="1373.6" r="6.7"/><circle cx="1093.3" cy="1374.6" r="6.7"/><circle cx="1096" cy="1378.9" r="6.7"/><circle cx="1097.7" cy="1370.4" r="6.7"/></g>
<path d="M1038.3 1364.2L1065.5 1363.6L1089.4 1362.8L1100 1362.4L1109 1361.2L1118.4 1359.2L1130.6 1355.5L1141.5 1352.9L1153.1 1351.3L1161.1 1351L1170.5 1351.4L1182 1353.2L1191 1355.5L1205.2 1358.9L1220 1362.1L1234.7 1367L1252.1 1372.2L1269.4 1375.4L1286.8 1377.7L1304.2 1380.9L1321.5 1384.3L1338.9 1387.8L1356.3 1391.3L1373.6 1394.2L1391 1396.6L1461.6 1404.6L1628.9 1425.2" fill="none" stroke="#FF0000" stroke-width="3.0" stroke-linecap="round" stroke-linejoin="round"/>
<path d="M1011 1355.5L1652.7 1355.5" fill="none" stroke="#BEBEBE" stroke-width="3" stroke-linecap="round" stroke-linejoin="round" stroke-dasharray="3 9"/>
<path d="M1034.7 1545.1L1034.7 939.3" fill="none" stroke="#BEBEBE" stroke-width="3" stroke-linecap="round" stroke-linejoin="round" stroke-dasharray="3 9"/>
<path d="M1652.7 1117.1L1649.6 1116.3L1646.5 1115.5L1643.5 1114.8L1640.4 1114L1637.3 1113.2L1634.2 1112.4L1631.1 1111.6L1628 1110.8L1625 1110L1621.9 1109.2L1618.8 1108.4L1615.7 1107.6L1612.6 1106.7L1609.5 1105.9L1606.5 1105L1603.4 1104.2L1600.3 1103.3L1597.2 1102.5L1594.1 1101.6L1591 1100.7L1588 1099.9L1584.9 1099L1581.8 1098.1L1578.7 1097.2L1575.6 1096.3L1572.5 1095.4L1569.5 1094.4L1566.4 1093.5L1563.3 1092.6L1560.2 1091.6L1557.1 1090.7L1554 1089.7L1551 1088.7L1547.9 1087.8L1544.8 1086.8L1541.7 1085.8L1538.6 1084.8L1535.6 1083.8L1532.5 1082.7L1529.4 1081.7L1526.3 1080.7L1523.2 1079.6L1520.1 1078.6L1517.1 1077.5L1514 1076.4L1510.9 1075.3L1507.8 1074.3L1504.7 1073.1L1501.6 1072L1498.6 1070.9L1495.5 1069.8L1492.4 1068.6L1489.3 1067.5L1486.2 1066.3L1483.1 1065.1L1480.1 1063.9L1477 1062.7L1473.9 1061.5L1470.8 1060.3L1467.7 1059L1464.6 1057.8L1461.6 1056.5L1458.5 1055.3L1455.4 1054L1452.3 1052.7L1449.2 1051.3L1446.1 1050L1443.1 1048.7L1440 1047.3L1436.9 1045.9L1433.8 1044.5L1430.7 1043.1L1427.6 1041.7L1424.6 1040.3L1421.5 1038.8L1418.4 1037.4L1415.3 1035.9L1412.2 1034.4L1409.2 1032.8L1406.1 1031.3L1403 1029.7L1399.9 1028.2L1396.8 1026.6L1393.7 1025L1390.7 1023.3L1387.6 1021.7L1384.5 1020L1381.4 1018.3L1378.3 1016.6L1375.2 1014.8L1372.2 1013.1L1369.1 1011.3L1366 1009.5L1362.9 1007.6L1359.8 1005.8L1356.7 1003.9L1353.7 1002L1350.6 1000.1L1347.5 998.1L1344.4 996.1L1341.3 994.1L1338.2 992L1335.2 989.9L1332.1 987.8L1329 985.7L1325.9 983.5L1322.8 981.3L1319.7 979L1316.7 976.8L1313.6 974.5L1310.5 972.1L1307.4 969.7L1304.3 967.3L1301.3 964.8L1298.2 962.3L1295.1 959.7L1292 957.1L1288.9 954.5L1285.8 951.8L1282.8 949L1279.7 946.2L1276.6 943.4L1273.5 940.5L1270.4 937.6L1267.3 934.5L1264.3 931.5L1261.2 928.3L1258.1 925.2L1255 921.9L1251.9 918.6L1248.8 915.2L1245.8 911.7L1242.7 908.2L1239.6 904.6L1236.5 900.9L1233.4 897.1" fill="none" stroke="#D55E00" stroke-width="3" stroke-linecap="round" stroke-linejoin="round" stroke-dasharray="12 12" stroke-dashoffset="18.1"/>
<path d="M1652.7 1018.3L1649.6 1017.2L1646.5 1016.1L1643.5 1015L1640.4 1013.9L1637.3 1012.8L1634.2 1011.7L1631.1 1010.6L1628 1009.4L1625 1008.3L1621.9 1007.2L1618.8 1006L1615.7 1004.8L1612.6 1003.7L1609.5 1002.5L1606.5 1001.3L1603.4 1000.1L1600.3 998.9L1597.2 997.7L1594.1 996.4L1591 995.2L1588 994L1584.9 992.7L1581.8 991.4L1578.7 990.2L1575.6 988.9L1572.5 987.6L1569.5 986.3L1566.4 985L1563.3 983.6L1560.2 982.3L1557.1 980.9L1554 979.6L1551 978.2L1547.9 976.8L1544.8 975.4L1541.7 974L1538.6 972.6L1535.6 971.2L1532.5 969.7L1529.4 968.3L1526.3 966.8L1523.2 965.3L1520.1 963.8L1517.1 962.3L1514 960.8L1510.9 959.3L1507.8 957.7L1504.7 956.2L1501.6 954.6L1498.6 953L1495.5 951.4L1492.4 949.8L1489.3 948.1L1486.2 946.5L1483.1 944.8L1480.1 943.1L1477 941.4L1473.9 939.7L1470.8 938L1467.7 936.2L1464.6 934.5L1461.6 932.7L1458.5 930.9L1455.4 929L1452.3 927.2L1449.2 925.3L1446.1 923.5L1443.1 921.6L1440 919.6L1436.9 917.7L1433.8 915.7L1430.7 913.7L1427.6 911.7L1424.6 909.7L1421.5 907.6L1418.4 905.6L1415.3 903.5L1412.2 901.3L1409.2 899.2" fill="none" stroke="#D55E00" stroke-width="3" stroke-linecap="round" stroke-linejoin="round" stroke-dasharray="12 12" stroke-dashoffset="21.5"/>
<path d="M1652.7 1594L1649.6 1594.8L1646.5 1595.5L1643.5 1596.3L1640.4 1597.1L1637.3 1597.9L1634.2 1598.7L1631.1 1599.5L1628 1600.3" fill="none" stroke="#D55E00" stroke-width="3" stroke-linecap="round" stroke-linejoin="round" stroke-dasharray="12 12"/>
<path d="M1652.7 1692.8" fill="none" stroke="#D55E00" stroke-width="3" stroke-linecap="round" stroke-linejoin="round" stroke-dasharray="12 12"/>
</g>
<path d="M1038 1508.8L1091.8 1508.8" fill="none" stroke="#D55E00" stroke-width="3" stroke-linecap="round" stroke-linejoin="round" stroke-dasharray="12 12"/>
<text transform="translate(1119.8 1518.6) scale(1 1.04)" font-size="29.88" textLength="208.2" lengthAdjust="spacing">Cook's distance</text>
<text transform="translate(1662.5 1025.5) scale(1 1.04)" font-size="22.4" style="fill:#D55E00">1</text>
<text transform="translate(1661.8 1124.4) scale(1 1.04)" font-size="22.4" style="fill:#D55E00" textLength="30" lengthAdjust="spacing">0.5</text>
<text transform="translate(1236.2 1005.6) scale(1 1.04)" font-size="22.4" textLength="24" lengthAdjust="spacing">76</text>
<text transform="translate(1117.9 1101.8) scale(1 1.04)" font-size="22.4" textLength="24" lengthAdjust="spacing">75</text>
<text transform="translate(1430.1 1456) scale(1 1.04)" font-size="22.4" text-anchor="end" textLength="36" lengthAdjust="spacing">140</text>
</svg>
</body></html>
